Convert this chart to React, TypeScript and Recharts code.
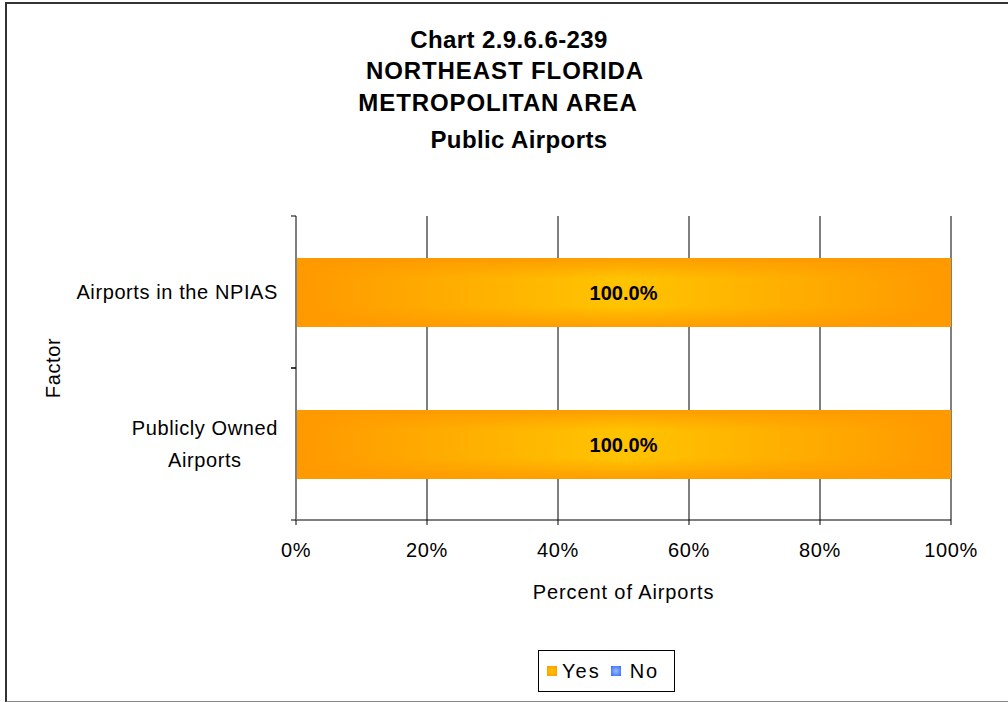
import React from "react";
import {
  Bar,
  BarChart,
  CartesianGrid,
  LabelList,
  XAxis,
  YAxis,
} from "recharts";

const titleLines = [
  "Chart 2.9.6.6-239",
  "NORTHEAST FLORIDA",
  "METROPOLITAN AREA",
  "Public Airports",
];
const categories = ["Airports in the NPIAS", "Publicly Owned\nAirports"];
const yesValues = [100, 100];
const noValues = [0, 0];
const xTicks = [0, 20, 40, 60, 80, 100];

const data = categories.map((name, i) => ({
  name,
  yes: yesValues[i],
  no: noValues[i],
}));

const FONT = "'Liberation Sans', Arial, sans-serif";

function measure(text: string, font: string) {
  const c = document.createElement("canvas").getContext("2d");
  if (!c) return text.length * 10;
  c.font = font;
  return c.measureText(text).width + text.length * 0.6;
}

function CategoryTick(props: any) {
  const { x, y, payload } = props;
  const lines = String(payload.value).split("\n");
  const half = payload.offset || 76;
  const axisX = x + 18;
  const widths = lines.map((l) => measure(l, `20px ${FONT}`));
  const maxW = Math.max(...widths);
  const lh = 32;
  const startY = y - ((lines.length - 1) * lh) / 2;
  return (
    <g>
      <line x1={axisX - 5} x2={axisX} y1={y - half} y2={y - half} stroke="#000" />
      <line x1={axisX - 5} x2={axisX} y1={y + half} y2={y + half} stroke="#000" />
      {lines.map((l, i) => (
        <text
          key={i}
          x={x - maxW / 2}
          y={startY + i * lh}
          textAnchor="middle"
          dominantBaseline="central"
          fontSize={20}
          fontFamily={FONT}
          letterSpacing={0.6}
          fill="#000"
        >
          {l}
        </text>
      ))}
    </g>
  );
}

function YesShape(props: any) {
  const { x, y, width, height } = props;
  if (!width || width <= 0) return null;
  return (
    <g>
      <rect x={x} y={y} width={width} height={height} fill="url(#yesH)" />
      <rect x={x} y={y} width={width} height={height} fill="url(#yesV)" />
    </g>
  );
}

export default function App() {
  return (
    <div
      style={{
        position: "absolute",
        left: 0,
        top: 0,
        width: 1008,
        height: 702,
        overflow: "hidden",
        background: "#fff",
        fontFamily: FONT,
      }}
    >
      <div
        style={{
          position: "absolute",
          left: 5,
          top: 2,
          width: 1020,
          height: 697,
          border: "2px solid #333",
          borderBottomColor: "#888",
        }}
      />
      {titleLines.map((t, i) => (
        <div
          key={i}
          style={{
            position: "absolute",
            left: [4, 0, -7, 14][i],
            width: 1010,
            top: [40, 71, 103, 140][i] - 15,
            height: 30,
            lineHeight: "30px",
            textAlign: "center",
            fontWeight: "bold",
            fontSize: 24,
            letterSpacing: i === 1 || i === 2 ? 0.9 : 0.4,
          }}
        >
          {t}
        </div>
      ))}
      <div style={{ position: "absolute", left: 0, top: 0 }}>
        <BarChart
          width={1008}
          height={702}
          data={data}
          layout="vertical"
          barSize={69}
          margin={{ top: 216, right: 57, bottom: 92, left: 46 }}
        >
          <defs>
            <linearGradient id="yesH" x1="0" y1="0" x2="1" y2="0">
              <stop offset="0%" stopColor="#FF9900" />
              <stop offset="50%" stopColor="#FFC400" />
              <stop offset="100%" stopColor="#FF9900" />
            </linearGradient>
            <linearGradient id="yesV" x1="0" y1="0" x2="0" y2="1">
              <stop offset="0%" stopColor="#FF9900" stopOpacity={0.9} />
              <stop offset="30%" stopColor="#FF9900" stopOpacity={0} />
              <stop offset="70%" stopColor="#FF9900" stopOpacity={0} />
              <stop offset="100%" stopColor="#FF9900" stopOpacity={0.9} />
            </linearGradient>
            <linearGradient id="noH" x1="0" y1="0" x2="1" y2="0">
              <stop offset="0%" stopColor="#3366FF" />
              <stop offset="50%" stopColor="#99BBFF" />
              <stop offset="100%" stopColor="#3366FF" />
            </linearGradient>
          </defs>
          <CartesianGrid
            horizontal={false}
            stroke="#7f7f7f"
            strokeWidth={2}
          />
          <XAxis
            type="number"
            domain={[0, 100]}
            ticks={xTicks}
            interval={0}
            tickFormatter={(v) => `${v}%`}
            tick={{ fill: "#000", fontSize: 20, fontFamily: FONT, letterSpacing: 0.6 }}
            tickSize={5}
            tickMargin={18}
            stroke="#000"
            height={90}
            label={{
              content: (p: any) => (
                <text
                  x={p.viewBox.x + p.viewBox.width / 2}
                  y={p.viewBox.y + 72}
                  textAnchor="middle"
                  dominantBaseline="central"
                  fontSize={20}
                  fontFamily={FONT}
                  letterSpacing={0.9}
                  fill="#000"
                >
                  Percent of Airports
                </text>
              ),
            }}
          />
          <YAxis
            type="category"
            dataKey="name"
            width={250}
            tickLine={false}
            tickSize={5}
            tickMargin={13}
            tick={<CategoryTick />}
            axisLine={{ stroke: "#7f7f7f", strokeWidth: 2 }}
            interval={0}
            label={{
              content: (p: any) => {
                const cx = p.viewBox.x + 7;
                const cy = p.viewBox.y + p.viewBox.height / 2;
                return (
                  <text
                    x={cx}
                    y={cy}
                    transform={`rotate(-90 ${cx} ${cy})`}
                    textAnchor="middle"
                    dominantBaseline="central"
                    fontSize={20}
                    fontFamily={FONT}
                    letterSpacing={0.6}
                    fill="#000"
                  >
                    Factor
                  </text>
                );
              },
            }}
          />
          <Bar
            dataKey="yes"
            stackId="a"
            shape={<YesShape />}
            isAnimationActive={false}
          >
            <LabelList
              dataKey="yes"
              position="center"
              formatter={(v: any) => `${Number(v).toFixed(1)}%`}
              style={{ fill: "#000", fontWeight: "bold", fontSize: 20, fontFamily: FONT }}
            />
          </Bar>
          <Bar dataKey="no" stackId="a" fill="url(#noH)" isAnimationActive={false} />
        </BarChart>
      </div>
      <div
        style={{
          position: "absolute",
          left: 538,
          top: 650,
          width: 135,
          height: 40,
          border: "1px solid #000",
          display: "flex",
          alignItems: "center",
          fontSize: 20,
          letterSpacing: 2,
        }}
      >
        {[
          { name: "Yes", fill: "radial-gradient(#FFC400, #FF9900)" },
          { name: "No", fill: "radial-gradient(#99BBFF, #3366FF)" },
        ].map((s, i) => (
          <span
            key={s.name}
            style={{ display: "flex", alignItems: "center", marginLeft: i === 0 ? 8 : 10 }}
          >
            <span
              style={{
                display: "inline-block",
                width: 10,
                height: 10,
                background: s.fill,
                marginRight: i === 0 ? 5 : 9,
              }}
            />
            {s.name}
          </span>
        ))}
      </div>
    </div>
  );
}
